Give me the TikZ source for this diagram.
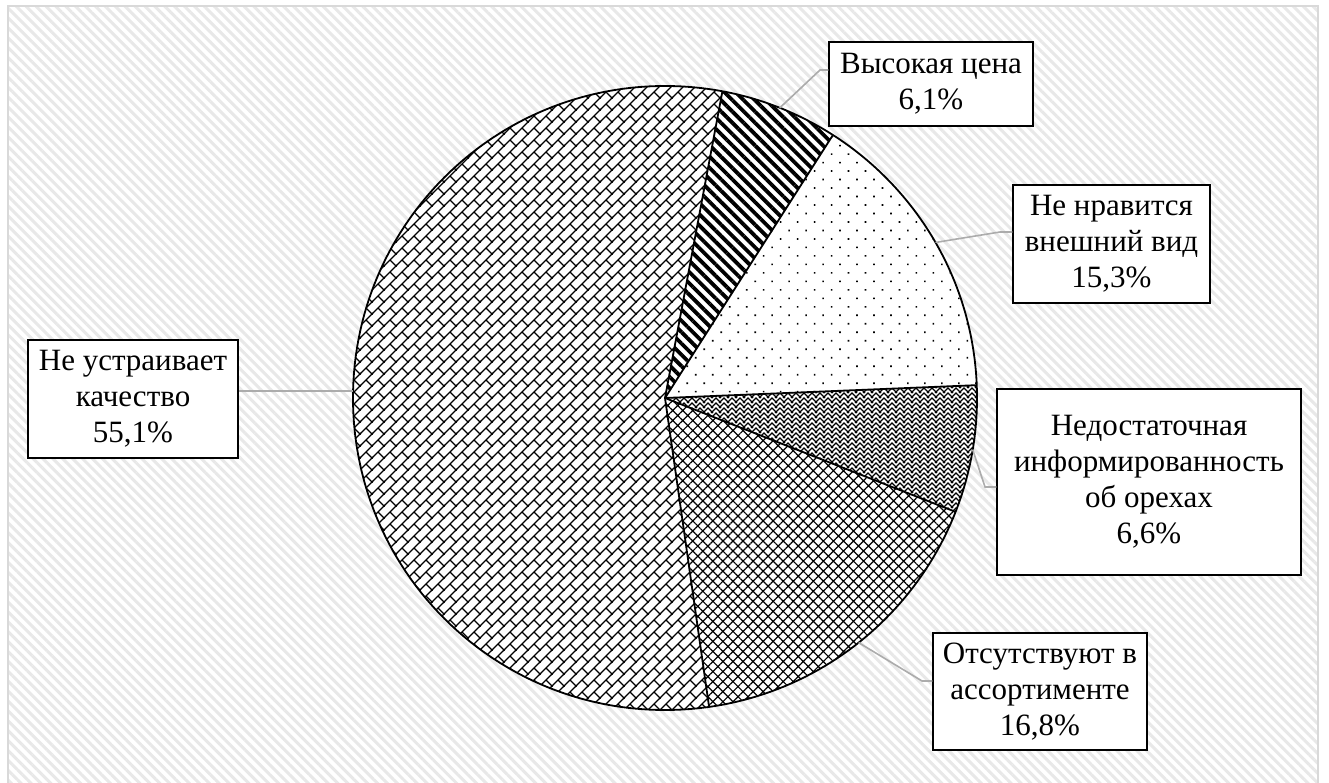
\documentclass[tikz,border=0pt]{standalone}
\usepackage{fontspec}
\setmainfont{Liberation Serif}
\usetikzlibrary{patterns,patterns.meta}

% diagonal brick hatching
\pgfdeclarepatternformonly{diagbrick}{\pgfqpoint{-1pt}{-1pt}}{\pgfqpoint{13pt}{13pt}}{\pgfqpoint{12pt}{12pt}}{%
  \pgfsetlinewidth{1.3pt}%
  \pgfpathmoveto{\pgfqpoint{-1pt}{-1pt}}\pgfpathlineto{\pgfqpoint{13pt}{13pt}}%
  \pgfpathmoveto{\pgfqpoint{6pt}{6pt}}\pgfpathlineto{\pgfqpoint{12.6pt}{-0.6pt}}%
  \pgfusepath{stroke}}

% dense zigzag weave
\pgfdeclarepatternformonly{zigweave}{\pgfqpoint{-1.5pt}{-1.5pt}}{\pgfqpoint{9.5pt}{5pt}}{\pgfqpoint{8pt}{5pt}}{%
  \pgfsetlinewidth{1.1pt}%
  \pgfpathmoveto{\pgfqpoint{-1pt}{-1pt}}\pgfpathlineto{\pgfqpoint{4pt}{4pt}}\pgfpathlineto{\pgfqpoint{9pt}{-1pt}}%
  \pgfusepath{stroke}}

\begin{document}
\begin{tikzpicture}[x=1pt,y=1pt,
  box/.style={draw=black, line width=1.2pt, fill=white, align=center, inner sep=0pt,
              font=\fontsize{31}{36}\selectfont},
  leader/.style={draw=gray!65, line width=1.6pt},
  slice/.style={draw=black, line width=1.8pt, line join=round}]
\useasboundingbox (0,0) rectangle (1329,782);
\clip (0,0) rectangle (1329,782);

% chart area: striped background and frame
\fill[white] (0,0) rectangle (1329,782);
\fill[pattern={Lines[angle=-45,distance=7pt,line width=3pt]}, pattern color=gray!18]
  (8,-10) rectangle (1318,776);
\draw[gray!30, line width=2pt] (8,-10) rectangle (1318,776);

% pie
\coordinate (c) at (665,384);
\fill[white] (c) circle[radius=312];
\fill[pattern={Lines[angle=-45,distance=8pt,line width=3.8pt]}, pattern color=black]
  (c) -- ++(79.4:312) arc[start angle=79.4, end angle=57.44, radius=312] -- cycle;
\fill[pattern={Dots[angle=45,distance=12pt,radius=1.15pt]}, pattern color=black]
  (c) -- ++(57.44:312) arc[start angle=57.44, end angle=2.36, radius=312] -- cycle;
\fill[pattern=zigweave, pattern color=black]
  (c) -- ++(2.36:312) arc[start angle=2.36, end angle=-21.4, radius=312] -- cycle;
\fill[pattern={Hatch[angle=45,distance=7.1pt,line width=1.2pt]}, pattern color=black]
  (c) -- ++(-21.4:312) arc[start angle=-21.4, end angle=-81.88, radius=312] -- cycle;
\fill[pattern=diagbrick, pattern color=black]
  (c) -- ++(-81.88:312) arc[start angle=-81.88, end angle=-280.6, radius=312] -- cycle;

\draw[slice] (c) circle[radius=312];
\foreach \a in {79.4,57.44,2.36,-21.4,-81.88}
  \draw[slice] (c) -- ++(\a:312);

% anchor points of the leader lines on the rim
\path (c) ++(68.42:312) coordinate (e1);
\path (c) ++(29.9:312) coordinate (e2);
\path (c) ++(-9.52:312) coordinate (e3);
\path (c) ++(-51.64:312) coordinate (e4);
\path (c) ++(178.76:312) coordinate (e5);
\coordinate (b1) at (820,712);
\coordinate (b2) at (1000,550);
\coordinate (b3) at (985,295);
\coordinate (b4) at (922,101);

% data labels
\node[box, minimum width=204pt, minimum height=84pt] (hi) at (931,698)
  {Высокая цена\\6,1\%};
\node[box, minimum width=197pt, minimum height=118pt] (vid) at (1111.5,538)
  {Не нравится\\внешний вид\\15,3\%};
\node[box, minimum width=304pt, minimum height=186pt] (info) at (1149,300)
  {Недостаточная\\информированность\\об орехах\\6,6\%};
\node[box, minimum width=214pt, minimum height=117pt] (assort) at (1040,90.5)
  {Отсутствуют в\\ассортименте\\16,8\%};
\node[box, minimum width=210pt, minimum height=118pt] (qual) at (133,383)
  {Не устраивает\\качество\\55,1\%};

% leader lines
\draw[leader] (e1) -- (b1) -- (b1 -| hi.west);
\draw[leader] (e2) -- (b2) -- (b2 -| vid.west);
\draw[leader] (e3) -- (b3) -- (b3 -| info.west);
\draw[leader] (e4) -- (b4) -- (b4 -| assort.west);
\draw[leader] (e5) -- (e5 -| qual.east);
\end{tikzpicture}
\end{document}
